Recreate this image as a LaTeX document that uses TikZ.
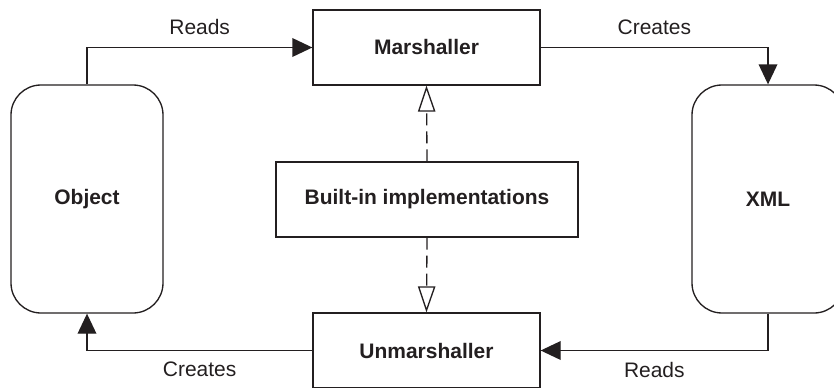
\documentclass[tikz,border=0pt]{standalone}
\usepackage{fontspec}
\setmainfont{Liberation Sans}
\usetikzlibrary{arrows.meta,positioning}
\definecolor{ink}{HTML}{231F20}
\newcommand{\diagfont}{\fontsize{17.9}{21}\selectfont}
\tikzset{
  comp/.style={
    draw = ink,
    shape = rectangle,
    minimum width = 68.1mm,
    minimum height = 22.5mm,
    inner sep = 0pt,
    font = \diagfont\bfseries
  },
  store/.style={
    draw = ink,
    shape = rectangle,
    rounded corners = 9mm,
    minimum width = 45.6mm,
    minimum height = 68.4mm,
    inner sep = 0pt,
    font = \diagfont\bfseries
  },
  flow/.style={
    draw = ink,
    -{Triangle[length=6mm,width=5.6mm]}
  },
  uses/.style={
    draw = ink,
    dash pattern = on 3.6mm off 1.8mm,
    -{Triangle[open,length=7.8mm,width=5.2mm]}
  },
  verb/.style={
    inner sep = 0pt,
    text depth = 0pt,
    font = \diagfont
  },
  every picture/.style = {
    line width = 0.4mm,
    text = ink
  }
}

\begin{document}
\begin{tikzpicture}[x=0.3mm,y=-0.3mm]
  \useasboundingbox (0,0) rectangle (834,387);
  \node[store] (object) at (87,199) {Object};
  \node[store] (xml) at (768,199) {XML};
  \node[comp] (marsh) at (426.5,47.5) {Marshaller};
  \node[comp] (unmarsh) at (426.5,350.5) {Unmarshaller};
  \node[comp, minimum width = 90.6mm] (impl) at (427,199.5) {Built-in implementations};
  % reading and creating
  \draw[flow] (object.north) |- node[verb, pos=0.75, above=3.6mm] {Reads} (marsh.west);
  \draw[flow] (marsh.east) -| node[verb, pos=0.25, above=3.6mm] {Creates} (xml.north);
  \draw[flow] (xml.south) |- node[verb, pos=0.75, below=3.3mm] {Reads} (unmarsh.east);
  \draw[flow] (unmarsh.west) -| node[verb, pos=0.25, below=3.3mm] {Creates} (object.south);
  % implementations
  \draw[uses] (impl.north) -- (marsh.south);
  \draw[uses] (impl.south) -- (unmarsh.north);
\end{tikzpicture}
\end{document}
